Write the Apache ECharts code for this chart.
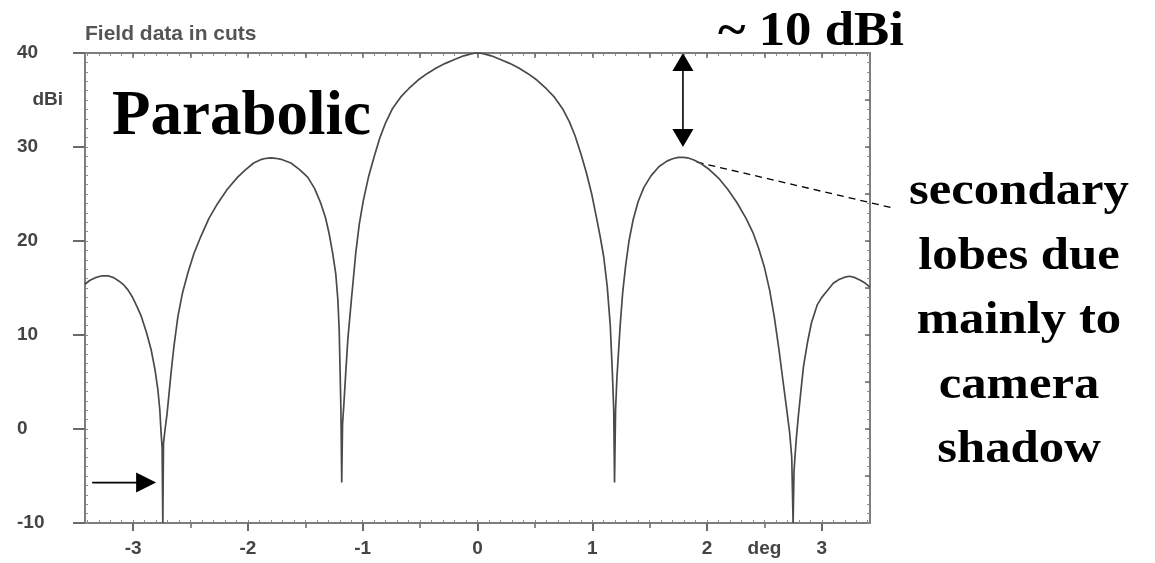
<!DOCTYPE html>
<html>
<head>
<meta charset="utf-8">
<script src="https://cdn.jsdelivr.net/npm/echarts@6/dist/echarts.min.js"></script>
<style>
  html, body { margin: 0; padding: 0; background: #ffffff; }
  #chart { width: 1155px; height: 563px; }
</style>
</head>
<body>
<div id="chart"></div>
<script>
// Far-field cut of a parabolic antenna: gain (dBi) against off-axis angle (deg).
// Each lobe is kept as its own list of [angle, gain] pairs.
const outerLobeLeft = [
  [-3.42, 15.4], [-3.38, 15.8], [-3.33, 16.1], [-3.27, 16.3], [-3.22, 16.3], [-3.17, 16.1],
  [-3.12, 15.7], [-3.08, 15.3], [-3.046, 14.8], [-3.01, 14.1], [-2.97, 13.1], [-2.93, 12.0],
  [-2.885, 10.3], [-2.843, 8.4], [-2.81, 6.3], [-2.785, 4.2], [-2.768, 2.0], [-2.757, -0.4],
  [-2.748, -2.0], [-2.742, -10]
];
const sideLobeLeft = [
  [-2.736, -1.5], [-2.722, 0.0], [-2.706, 1.5], [-2.69, 3.5], [-2.67, 6.0], [-2.645, 8.8],
  [-2.61, 12.0], [-2.57, 14.5], [-2.524, 16.6], [-2.47, 18.7], [-2.41, 20.5], [-2.34, 22.4],
  [-2.264, 24.0], [-2.18, 25.5], [-2.09, 26.8], [-2.02, 27.6], [-1.95, 28.3], [-1.89, 28.65],
  [-1.84, 28.8], [-1.80, 28.85], [-1.76, 28.8], [-1.70, 28.65], [-1.626, 28.3], [-1.55, 27.6],
  [-1.48, 26.8], [-1.42, 25.6], [-1.365, 24.0], [-1.325, 22.5], [-1.293, 20.8], [-1.262, 18.7],
  [-1.235, 16.5], [-1.217, 13.8], [-1.205, 10.5], [-1.197, 6.0], [-1.19, 2.0], [-1.183, -5.7]
];
const mainLobe = [
  [-1.176, 0.5], [-1.165, 2.5], [-1.148, 6.0], [-1.13, 9.5], [-1.10, 13.6], [-1.061, 18.7],
  [-1.03, 21.8], [-0.995, 24.3], [-0.95, 26.8], [-0.90, 29.0], [-0.85, 31.0], [-0.80, 32.6],
  [-0.74, 34.1], [-0.67, 35.3], [-0.60, 36.2], [-0.52, 37.1], [-0.44, 37.8], [-0.36, 38.4],
  [-0.28, 38.9], [-0.20, 39.3], [-0.12, 39.7], [-0.04, 39.95], [0, 40], [0.04, 39.95],
  [0.12, 39.7], [0.20, 39.3], [0.28, 38.9], [0.36, 38.4], [0.44, 37.8], [0.52, 37.1],
  [0.60, 36.2], [0.67, 35.3], [0.74, 34.1], [0.80, 32.7], [0.85, 31.2], [0.90, 29.3],
  [0.95, 27.2], [0.995, 25.0], [1.035, 22.6], [1.07, 20.4], [1.10, 18.3], [1.13, 15.2],
  [1.157, 11.0], [1.175, 6.0], [1.187, 2.0], [1.194, -5.7]
];
const sideLobeRight = [
  [1.203, 2.0], [1.215, 5.5], [1.243, 11.0], [1.265, 14.5], [1.29, 17.3], [1.32, 20.0],
  [1.355, 22.2], [1.40, 24.2], [1.45, 25.7], [1.51, 26.9], [1.58, 27.9], [1.65, 28.5],
  [1.70, 28.75], [1.75, 28.9], [1.79, 28.9], [1.83, 28.85], [1.88, 28.65], [1.94, 28.3],
  [2.02, 27.6], [2.10, 26.7], [2.18, 25.5], [2.26, 24.1], [2.34, 22.4], [2.40, 20.9],
  [2.45, 19.2], [2.50, 17.2], [2.545, 14.8], [2.585, 12.0], [2.625, 8.6], [2.663, 5.0],
  [2.695, 2.0], [2.72, -0.4], [2.738, -3.0], [2.75, -10]
];
const outerLobeRight = [
  [2.758, -4.5], [2.765, -3.2], [2.778, -1.0], [2.795, 1.3], [2.82, 4.3], [2.84, 6.6],
  [2.875, 9.2], [2.91, 11.3], [2.96, 13.2], [3.00, 14.0], [3.04, 14.6], [3.10, 15.5],
  [3.15, 15.9], [3.20, 16.15], [3.243, 16.25], [3.29, 16.1], [3.34, 15.8], [3.38, 15.5],
  [3.42, 15.1]
];

// Axis extents and tick labels
const angleRange = [-3.42, 3.42];
const gainRange = [-10, 40];
const angleTicks = [-3, -2, -1, 0, 1, 2, 3];
const angleUnit = { at: 2.5, text: 'deg' };
const gainTicks = [40, 30, 20, 10, 0, -10];
const gainUnit = { at: 35, text: 'dBi' };

// Texts and annotation anchors (in data units)
const chartTitle = 'Field data in cuts';
const antennaName = 'Parabolic';
const gapText = '~ 10 dBi';
const gapArrow = { angle: 1.79, from: 40, to: 30 };
const nullPointer = { gain: -5.7, fromAngle: -3.357, toAngle: -2.80 };
const lobeNoteAnchor = [1.91, 28.4];
const lobeNote = ['secondary', 'lobes due', 'mainly to', 'camera', 'shadow'];

const pattern = [].concat(outerLobeLeft, sideLobeLeft, mainLobe, sideLobeRight, outerLobeRight);

function steps(a, b, step) {
  const out = [];
  for (let k = Math.ceil(a / step - 1e-9); k * step <= b + 1e-9; k++) {
    out.push(Math.round(k * step * 1000) / 1000);
  }
  return out;
}

const frameColor = '#7d7d7d';
const tickColor = '#6a6a6a';
const dotColor = '#8a8a8a';
const labelFont = { fontFamily: '"Liberation Sans", Arial, sans-serif', fontWeight: 'bold', fontSize: 19, color: '#444' };

function xAx(extra) {
  return Object.assign({
    type: 'value', min: angleRange[0], max: angleRange[1], position: 'bottom',
    splitLine: { show: false }, axisLabel: { show: false }, axisTick: { show: false },
    axisLine: { show: false, onZero: false }
  }, extra);
}
function yAx(extra) {
  return Object.assign({
    type: 'value', min: gainRange[0], max: gainRange[1], position: 'left',
    splitLine: { show: false }, axisLabel: { show: false }, axisTick: { show: false },
    axisLine: { show: false, onZero: false }
  }, extra);
}
const frameLine = { show: true, onZero: false, lineStyle: { color: frameColor, width: 2 } };

const option = {
  animation: false,
  backgroundColor: '#ffffff',
  title: {
    text: chartTitle, left: 85, top: 24, padding: 0,
    textStyle: { fontFamily: '"Liberation Sans", Arial, sans-serif', fontWeight: 'bold', fontSize: 21, color: '#555' }
  },
  grid: { left: 85, right: 285, top: 53, bottom: 40, containLabel: false, outerBoundsMode: 'none' },
  xAxis: [
    xAx({
      axisLine: frameLine,
      axisTick: { show: true, customValues: angleTicks, length: 8, lineStyle: { color: tickColor, width: 2 } },
      axisLabel: Object.assign({
        show: true, margin: 16,
        customValues: angleTicks.concat([angleUnit.at]),
        formatter: v => (Math.abs(v - angleUnit.at) < 1e-6 ? angleUnit.text : String(v))
      }, labelFont)
    }),
    xAx({ axisTick: { show: true, customValues: steps(-3.4, 3.4, 0.5), length: 5, lineStyle: { color: tickColor, width: 1.5 } } }),
    xAx({ axisTick: { show: true, inside: true, customValues: steps(-3.4, 3.4, 0.1), length: 3, lineStyle: { color: dotColor, width: 1 } } }),
    xAx({
      position: 'top', axisLine: frameLine,
      axisTick: { show: true, inside: true, customValues: steps(-3.4, 3.4, 0.1), length: 3, lineStyle: { color: dotColor, width: 1 } }
    }),
    xAx({ position: 'top', axisTick: { show: true, inside: true, customValues: steps(-3.4, 3.4, 0.5), length: 5, lineStyle: { color: tickColor, width: 1.5 } } })
  ],
  yAxis: [
    yAx({
      axisLine: frameLine,
      axisTick: { show: true, customValues: gainTicks, length: 12, lineStyle: { color: tickColor, width: 2 } },
      axisLabel: Object.assign({ show: true, customValues: gainTicks, align: 'left', margin: 68 }, labelFont)
    }),
    yAx({
      axisTick: { show: true, customValues: steps(-5, 35, 10), length: 8, lineStyle: { color: tickColor, width: 1.5 } },
      axisLabel: Object.assign({ show: true, customValues: [gainUnit.at], align: 'right', margin: 22, formatter: () => gainUnit.text }, labelFont)
    }),
    yAx({ axisTick: { show: true, inside: true, customValues: steps(-10, 40, 1), length: 3, lineStyle: { color: dotColor, width: 1 } } }),
    yAx({
      position: 'right', axisLine: frameLine,
      axisTick: { show: true, inside: true, customValues: steps(-10, 40, 1), length: 3, lineStyle: { color: dotColor, width: 1 } }
    }),
    yAx({ position: 'right', axisTick: { show: true, inside: true, customValues: steps(-5, 35, 5), length: 5, lineStyle: { color: tickColor, width: 1.5 } } })
  ],
  series: [{
    type: 'line',
    xAxisIndex: 0, yAxisIndex: 0,
    data: pattern,
    showSymbol: false,
    symbol: 'none',
    lineStyle: { color: '#4a4a4a', width: 1.7 },
    clip: true
  }]
};

const chart = echarts.init(document.getElementById('chart'));
chart.setOption(option);

// Annotations placed from data coordinates
const toPx = p => chart.convertToPixel({ seriesIndex: 0 }, p);
const serif = '"Liberation Serif", "Times New Roman", serif';
const black = '#000000';

const gapTop = toPx([gapArrow.angle, gapArrow.from]);
const gapBot = toPx([gapArrow.angle, gapArrow.to]);
const headLen = 18, headHalf = 10.5;

const ptrY = toPx([0, nullPointer.gain])[1];
const ptrX0 = toPx([nullPointer.fromAngle, 0])[0];
const ptrX1 = toPx([nullPointer.toAngle, 0])[0];

const noteStart = toPx(lobeNoteAnchor);

chart.setOption({
  graphic: [
    {
      type: 'text', x: 112, y: 86,
      style: { text: antennaName, font: 'bold 63px ' + serif, fill: black, align: 'left', verticalAlign: 'top' }
    },
    {
      type: 'text', x: 718, y: 9, scaleX: 1.1,
      style: { text: gapText, font: 'bold 48px ' + serif, fill: black, align: 'left', verticalAlign: 'top' }
    },
    {
      type: 'text', x: 1019, y: 160, scaleX: 1.08,
      style: { text: lobeNote.join('\n'), font: 'bold 47px ' + serif, lineHeight: 64.5, fill: black, align: 'center', verticalAlign: 'top' }
    },
    {
      type: 'line',
      shape: { x1: gapTop[0], y1: gapTop[1] + headLen, x2: gapBot[0], y2: gapBot[1] - headLen },
      style: { stroke: black, lineWidth: 1.6 }
    },
    {
      type: 'polygon',
      shape: { points: [[gapTop[0], gapTop[1]], [gapTop[0] - headHalf, gapTop[1] + headLen], [gapTop[0] + headHalf, gapTop[1] + headLen]] },
      style: { fill: black }
    },
    {
      type: 'polygon',
      shape: { points: [[gapBot[0], gapBot[1]], [gapBot[0] - headHalf, gapBot[1] - headLen], [gapBot[0] + headHalf, gapBot[1] - headLen]] },
      style: { fill: black }
    },
    {
      type: 'line',
      shape: { x1: ptrX0, y1: ptrY, x2: ptrX1 - 18, y2: ptrY },
      style: { stroke: black, lineWidth: 1.6 }
    },
    {
      type: 'polygon',
      shape: { points: [[ptrX1, ptrY], [ptrX1 - 20, ptrY - 10], [ptrX1 - 20, ptrY + 10]] },
      style: { fill: black }
    },
    {
      type: 'line',
      shape: { x1: noteStart[0], y1: noteStart[1], x2: 893, y2: 208 },
      style: { stroke: black, lineWidth: 1.3, lineDash: [7, 5] }
    }
  ]
});
</script>
</body>
</html>
